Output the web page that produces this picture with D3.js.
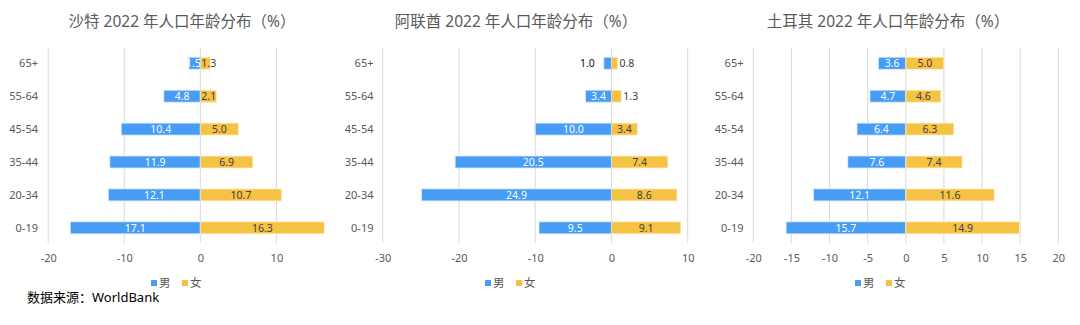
<!DOCTYPE html>
<html><head><meta charset="utf-8">
<script src="https://cdn.jsdelivr.net/npm/d3@7"></script>
<style>
html,body{margin:0;padding:0;background:#fff;}
svg{display:block;font-family:"Noto Sans","Noto Sans CJK SC",sans-serif;}
</style></head>
<body>
<svg id="c" width="1080" height="325"></svg>
<script>
const categories = ["65+", "55-64", "45-54", "35-44", "20-34", "0-19"];

const saudiTitle = "沙特 2022 年人口年龄分布（%）";
const saudiMale = [1.5, 4.8, 10.4, 11.9, 12.1, 17.1];
const saudiFemale = [1.3, 2.1, 5.0, 6.9, 10.7, 16.3];
const saudiTicks = [-20, -10, 0, 10];

const uaeTitle = "阿联酋 2022 年人口年龄分布（%）";
const uaeMale = [1.0, 3.4, 10.0, 20.5, 24.9, 9.5];
const uaeFemale = [0.8, 1.3, 3.4, 7.4, 8.6, 9.1];
const uaeTicks = [-30, -20, -10, 0, 10];
const uaeMaleOutside = ["65+"];
const uaeFemaleOutside = ["65+", "55-64"];

const turkeyTitle = "土耳其 2022 年人口年龄分布（%）";
const turkeyMale = [3.6, 4.7, 6.4, 7.6, 12.1, 15.7];
const turkeyFemale = [5.0, 4.6, 6.3, 7.4, 11.6, 14.9];
const turkeyTicks = [-20, -15, -10, -5, 0, 5, 10, 15, 20];

const seriesNames = ["男", "女"];
const sourceText = "数据来源：WorldBank";

const BLUE = "#479cf5", YELLOW = "#f6c244", GRID = "#d9d9d9", TXT = "#595959";

const svg = d3.select("#c");

const panels = [
  {title: saudiTitle, male: saudiMale, female: saudiFemale, ticks: saudiTicks,
   domain: [-20, 17.1], range: [48.2, 330.4], catX: 38, titleX: 182, legendX: 151,
   maleOut: [], femaleOut: []},
  {title: uaeTitle, male: uaeMale, female: uaeFemale, ticks: uaeTicks,
   domain: [-30, 10], range: [382.7, 687.7], catX: 373.5, titleX: 516, legendX: 485,
   maleOut: uaeMaleOutside, femaleOut: uaeFemaleOutside},
  {title: turkeyTitle, male: turkeyMale, female: turkeyFemale, ticks: turkeyTicks,
   domain: [-20, 20], range: [753.3, 1058.3], catX: 743.5, titleX: 888, legendX: 855,
   maleOut: [], femaleOut: []}
];

const y = d3.scalePoint().domain(categories).range([46.8, 244.3]).padding(0.5);
const barH = 12;
const gridTop = 48, gridBottom = 243;
const fmtTick = d => String(d);
const LBL = 10.5;

panels.forEach(p => {
  const x = d3.scaleLinear().domain(p.domain).range(p.range);
  const g = svg.append("g");

  g.append("text").attr("x", p.titleX).attr("y", 27)
    .attr("text-anchor", "middle").attr("font-size", 15.5)
    .attr("fill", TXT).text(p.title);

  g.selectAll("line.grid").data(p.ticks.filter(t => t !== 0)).join("line")
    .attr("x1", d => x(d)).attr("x2", d => x(d))
    .attr("y1", gridTop).attr("y2", gridBottom)
    .attr("stroke", GRID).attr("stroke-width", 1);

  const axis = d3.axisBottom(x).tickValues(p.ticks).tickSize(0).tickPadding(0)
    .tickFormat(fmtTick);
  const ax = g.append("g").attr("transform", `translate(0,${gridBottom + 11})`).call(axis);
  ax.select(".domain").remove();
  ax.selectAll("text").attr("font-size", 11).attr("fill", TXT)
    .attr("font-family", '"Noto Sans","Noto Sans CJK SC",sans-serif')
    .attr("dy", "0.71em");

  g.selectAll("text.cat").data(categories).join("text")
    .attr("x", p.catX).attr("y", d => y(d)).attr("dy", "0.35em")
    .attr("text-anchor", "end").attr("font-size", 11).attr("fill", TXT)
    .text(d => d);

  const male = categories.map((c, i) => ({c, v: p.male[i]}));
  const female = categories.map((c, i) => ({c, v: p.female[i]}));

  g.selectAll("rect.m").data(male).join("rect")
    .attr("x", d => x(-d.v)).attr("width", d => x(0) - x(-d.v))
    .attr("y", d => y(d.c) - barH / 2).attr("height", barH)
    .attr("fill", BLUE).attr("stroke", "#dbeafd").attr("stroke-width", 0.8);
  g.selectAll("rect.f").data(female).join("rect")
    .attr("x", x(0)).attr("width", d => x(d.v) - x(0))
    .attr("y", d => y(d.c) - barH / 2).attr("height", barH)
    .attr("fill", YELLOW).attr("stroke", "#fdf0cc").attr("stroke-width", 0.8);

  g.append("line").attr("x1", x(0)).attr("x2", x(0))
    .attr("y1", gridTop).attr("y2", gridBottom)
    .attr("stroke", GRID).attr("stroke-width", 1);

  const ml = g.selectAll("text.ml").data(male).join("text")
    .attr("y", d => y(d.c)).attr("dy", "0.36em")
    .attr("font-size", LBL)
    .attr("fill", d => p.maleOut.includes(d.c) ? "#111" : "#fff")
    .text(d => d.v.toFixed(1));
  ml.each(function(d) {
    const t = d3.select(this);
    if (p.maleOut.includes(d.c)) {
      t.attr("x", x(-d.v) - 9).attr("text-anchor", "end");
    } else {
      const w = this.getComputedTextLength();
      const cx = Math.min((x(-d.v) + x(0)) / 2, x(0) + 0.5 - w / 2);
      t.attr("x", cx).attr("text-anchor", "middle");
    }
  });
  const fl = g.selectAll("text.fl").data(female).join("text")
    .attr("y", d => y(d.c)).attr("dy", "0.36em")
    .attr("font-size", LBL).attr("fill", "#404040")
    .text(d => d.v.toFixed(1));
  fl.each(function(d) {
    const t = d3.select(this);
    if (p.femaleOut.includes(d.c)) {
      t.attr("x", x(d.v) + 2).attr("text-anchor", "start");
    } else {
      const w = this.getComputedTextLength();
      const cx = Math.max((x(d.v) + x(0)) / 2, x(0) + 1 + w / 2);
      t.attr("x", cx).attr("text-anchor", "middle");
    }
  });

  const lg = g.append("g").attr("transform", `translate(${p.legendX},283)`);
  [BLUE, YELLOW].forEach((col, i) => {
    const ox = i * 31;
    lg.append("rect").attr("x", ox).attr("y", -3).attr("width", 6).attr("height", 6).attr("fill", col);
    lg.append("text").attr("x", ox + 8).attr("y", 0).attr("dy", "0.36em")
      .attr("font-size", 11.5).attr("fill", TXT).text(seriesNames[i]);
  });
});

svg.append("text").attr("x", 27).attr("y", 302).attr("font-size", 13)
  .attr("fill", "#000").text(sourceText);
</script>
</body></html>
